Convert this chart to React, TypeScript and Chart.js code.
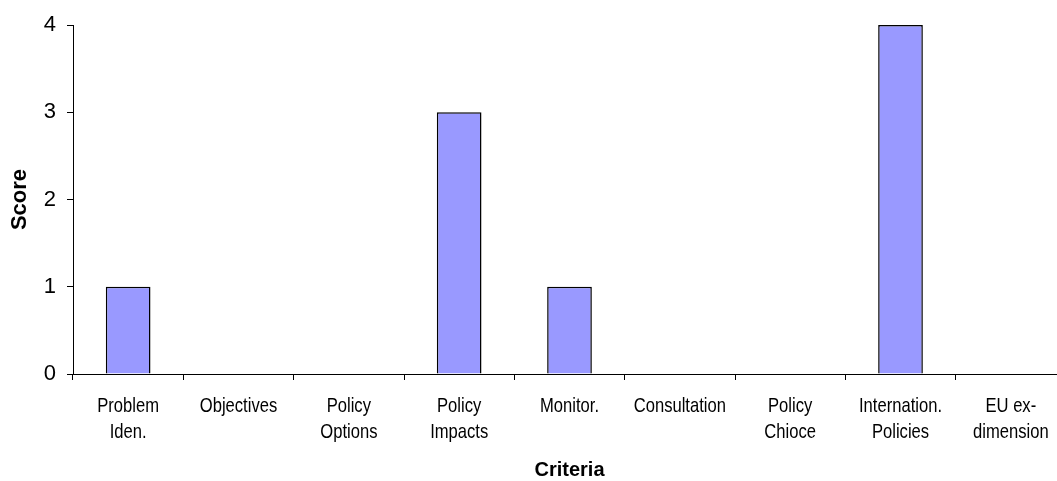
import { useEffect, useRef } from "react";
import { Chart, registerables } from "chart.js";

Chart.register(...registerables);

// Assessment criteria (multi-line where the label wraps)
const categories: (string | string[])[] = [
  ["Problem", "Iden."],
  "Objectives",
  ["Policy", "Options"],
  ["Policy", "Impacts"],
  "Monitor.",
  "Consultation",
  ["Policy", "Chioce"],
  ["Internation.", "Policies"],
  ["EU ex-", "dimension"],
];

// Score given for each criterion
const scores = [1, 0, 0, 3, 1, 0, 0, 4, 0];

// Value axis range
const yMin = 0;
const yMax = 4;
const yStep = 1;

const CANVAS_W = 1070;
const CANVAS_H = 481;

// Category labels are set in a condensed face: draw them horizontally
// squeezed, centred on each category of the x scale.
const condensedLabels = {
  id: "condensedLabels",
  afterDraw(chart: any) {
    const { ctx, chartArea } = chart;
    const xScale = chart.scales.x;
    const labels = chart.data.labels as (string | string[])[];
    const squeeze = 0.79;
    const firstBaseline = chartArea.bottom + 37.5;
    const lineGap = 26.5;
    ctx.save();
    ctx.font = "21px 'Liberation Sans', Arial, sans-serif";
    ctx.fillStyle = "#000000";
    ctx.textAlign = "center";
    ctx.textBaseline = "alphabetic";
    labels.forEach((label, i) => {
      const lines = Array.isArray(label) ? label : [label];
      const x = xScale.getPixelForValue(i);
      lines.forEach((line, j) => {
        ctx.save();
        ctx.translate(x, firstBaseline + j * lineGap);
        ctx.scale(squeeze, 1);
        ctx.fillText(line, 0, 0);
        ctx.restore();
      });
    });
    ctx.restore();
  },
};

export default function App() {
  const canvasRef = useRef<HTMLCanvasElement | null>(null);

  useEffect(() => {
    const canvas = canvasRef.current;
    if (!canvas) return;

    const chart = new Chart(canvas, {
      type: "bar",
      data: {
        labels: categories,
        datasets: [
          {
            label: "Score",
            data: scores,
            backgroundColor: "#9999FF",
            borderColor: "#000000",
            borderWidth: 1.5,
            borderSkipped: "bottom",
            categoryPercentage: 1,
            barPercentage: 0.405,
          },
        ],
      },
      options: {
        responsive: false,
        animation: false,
        devicePixelRatio: 1,
        layout: { padding: { top: 25, right: 4, bottom: 0, left: 0 } },
        plugins: {
          legend: { display: false },
          tooltip: { enabled: false },
          title: { display: false },
        },
        scales: {
          x: {
            offset: true,
            afterFit: (scale: any) => {
              scale.height = 107;
            },
            grid: {
              display: true,
              offset: true,
              drawOnChartArea: false,
              drawTicks: true,
              tickLength: 6,
              color: "#000000",
              lineWidth: 1,
            },
            border: { display: true, color: "#000000", width: 1 },
            ticks: {
              display: false,
              autoSkip: false,
              maxRotation: 0,
            },
            title: {
              display: true,
              text: "Criteria",
              color: "#000000",
              padding: { top: 0, bottom: 0 },
              font: {
                family: "'Liberation Sans', Arial, sans-serif",
                size: 20,
                weight: "bold",
                lineHeight: 1.1,
              },
            },
          },
          y: {
            min: yMin,
            max: yMax,
            afterFit: (scale: any) => {
              scale.width = 73;
            },
            grid: {
              display: true,
              drawOnChartArea: false,
              drawTicks: true,
              tickLength: 6,
              color: "#000000",
              lineWidth: 1,
            },
            border: { display: true, color: "#000000", width: 1 },
            ticks: {
              stepSize: yStep,
              color: "#000000",
              padding: 11,
              font: {
                family: "'Liberation Sans', Arial, sans-serif",
                size: 22,
              },
            },
            title: {
              display: true,
              text: "Score",
              color: "#000000",
              padding: { top: 7, bottom: 0 },
              font: {
                family: "'Liberation Sans', Arial, sans-serif",
                size: 22,
                weight: "bold",
                lineHeight: 1.2,
              },
            },
          },
        },
      },
      plugins: [condensedLabels],
    });

    return () => {
      chart.destroy();
    };
  }, []);

  return (
    <div
      style={{
        position: "absolute",
        left: 0,
        top: 0,
        width: 1057,
        height: 481,
        overflow: "hidden",
        background: "#ffffff",
      }}
    >
      <canvas
        ref={canvasRef}
        width={CANVAS_W}
        height={CANVAS_H}
        style={{ display: "block", width: CANVAS_W, height: CANVAS_H }}
      />
    </div>
  );
}
